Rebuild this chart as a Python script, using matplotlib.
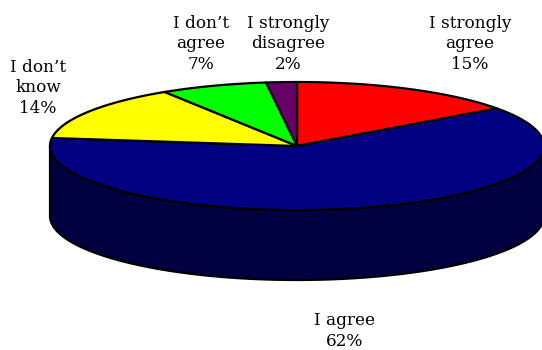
import numpy as np
import matplotlib
matplotlib.use('Agg')
from matplotlib import pyplot as plt
from matplotlib.patches import Polygon

labels = ['I strongly\nagree\n15%', 'I agree\n62%', 'I don\u2019t\nknow\n14%',
          'I don\u2019t\nagree\n7%', 'I strongly\ndisagree\n2%']
shares = [15, 62, 14, 7, 2]
colors = ['#ff0000', '#000080', '#ffff00', '#00ff00', '#660066']
side_colors = ['#800000', '#000040', '#808000', '#008000', '#330033']

# label anchor spots (pixels)
label_xy = [(470, 44), (345, 331), (38, 88), (201, 44), (288, 44)]

cx, cy, a, b, depth = 297, 146, 247, 64, 70

def pt(t, dy=0):
    return cx + a * np.sin(t), cy - b * np.cos(t) + dy

fig = plt.figure(figsize=(5.42, 3.5), dpi=100)
ax = fig.add_axes([0, 0, 1, 1])
ax.set_xlim(0, 542)
ax.set_ylim(350, 0)
ax.axis('off')

frac = np.array(shares) / sum(shares)
bounds = np.concatenate([[0], np.cumsum(frac)]) * 2 * np.pi

# side walls (front half only)
for i in range(len(shares)):
    t0, t1 = max(bounds[i], np.pi / 2), min(bounds[i + 1], 3 * np.pi / 2)
    if t1 <= t0:
        continue
    t = np.linspace(t0, t1, 200)
    xs, ys = pt(t)
    xb, yb = pt(t[::-1], depth)
    poly = Polygon(np.column_stack([np.r_[xs, xb], np.r_[ys, yb]]),
                   closed=True, facecolor=side_colors[i], edgecolor='black', lw=1.6)
    ax.add_patch(poly)

# top faces
for i in range(len(shares)):
    t = np.linspace(bounds[i], bounds[i + 1], 300)
    xs, ys = pt(t)
    poly = Polygon(np.column_stack([np.r_[cx, xs], np.r_[cy, ys]]),
                   closed=True, facecolor=colors[i], edgecolor='black', lw=1.6,
                   joinstyle='round')
    ax.add_patch(poly)

for lab, (x, y) in zip(labels, label_xy):
    ax.text(x, y, lab, ha='center', va='center', fontsize=12.2,
            family='DejaVu Serif', linespacing=1.25)

fig.savefig('out.png', dpi=100)
